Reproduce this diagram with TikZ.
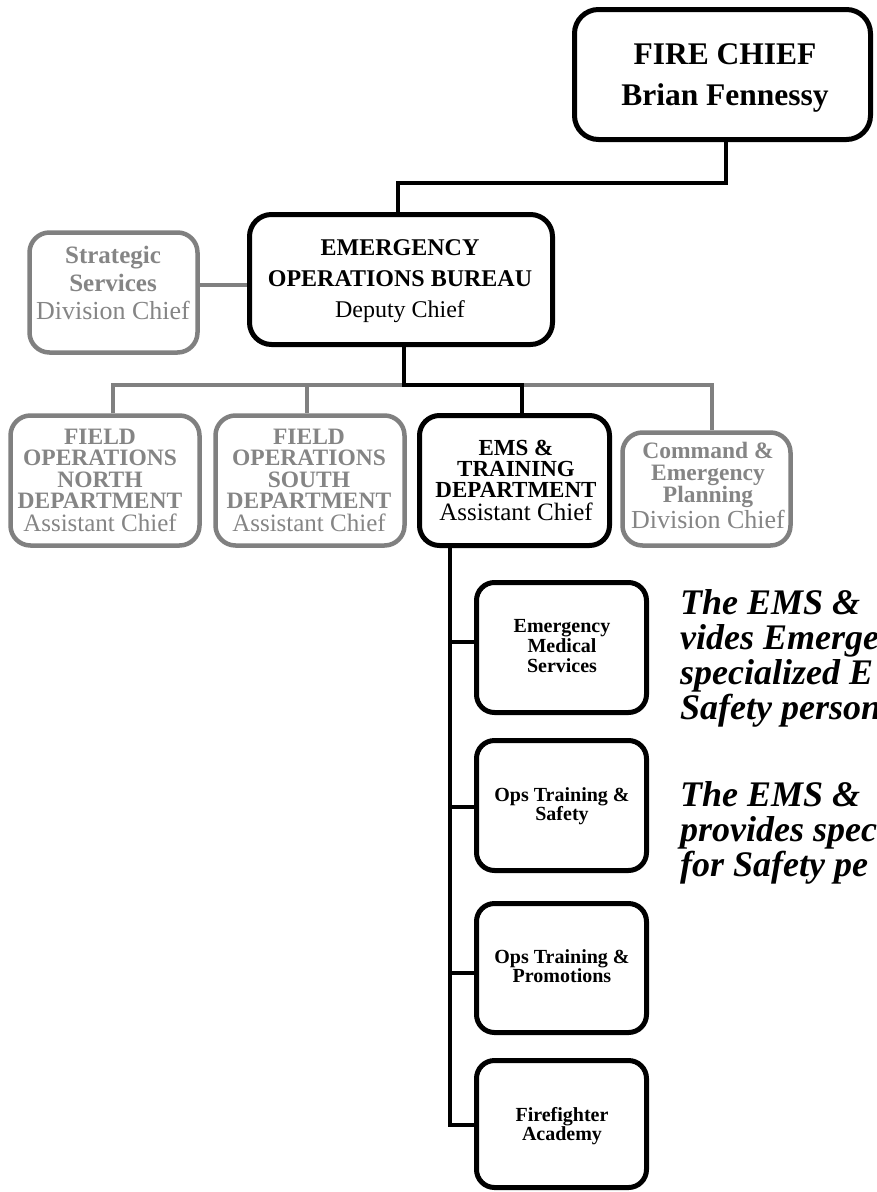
\documentclass[tikz,border=0pt]{standalone}
\usepackage{fontspec}
\setmainfont{Liberation Serif}
\definecolor{gline}{HTML}{808080}
\definecolor{gtext}{HTML}{858585}
\tikzset{
  box/.style={draw, line width=5pt, rounded corners=20pt, inner sep=0pt, fill=white},
  gbox/.style={box, draw=gline, line width=4.5pt},
  subbox/.style={box, rounded corners=18pt, minimum width=170pt, minimum height=130pt},
  txt/.style={align=center, inner sep=0pt, anchor=north},
  gtxt/.style={txt, text=gtext},
  conn/.style={line width=4.5pt},
  gconn/.style={line width=4.5pt, draw=gline},
  para/.style={align=left, inner sep=0pt, anchor=north west, font=\fontsize{36}{35}\selectfont\bfseries\itshape}
}
\begin{document}
\begin{tikzpicture}[x=1pt,y=-1pt]
\useasboundingbox (0,0) rectangle (876,1192);
% coordinates for connectors
\coordinate (j1) at (726,183);
\coordinate (j2) at (398,183);
\coordinate (j5) at (220,285);
\coordinate (gA) at (113,385);
\coordinate (gB) at (307,385);
\coordinate (gC) at (712,385);
\coordinate (jB1) at (404,385);
\coordinate (jB2) at (522,385);
\coordinate (r1) at (450,642);
\coordinate (r2) at (450,807);
\coordinate (r3) at (450,973);
\coordinate (r4) at (450,1125);

% boxes
\node[box, minimum width=296pt, minimum height=130pt, rounded corners=24pt] (fire) at (722.5,74.5) {};
\node[box, minimum width=303pt, minimum height=130pt, rounded corners=22pt] (eob) at (401,279.5) {};
\node[gbox, minimum width=168pt, minimum height=120pt] (strat) at (113.5,292.5) {};
\node[gbox, minimum width=189pt, minimum height=130pt] (fon) at (105,480.5) {};
\node[gbox, minimum width=189pt, minimum height=130pt] (fos) at (310,480.5) {};
\node[box, minimum width=190pt, minimum height=130pt] (ems) at (514.5,480.5) {};
\node[gbox, minimum width=168pt, minimum height=113pt] (cmd) at (706.5,489) {};
\node[subbox] (emsmed) at (561.5,647.5) {};
\node[subbox] (opssafe) at (561.5,805.5) {};
\node[subbox, minimum height=129pt] (opsprom) at (561.5,968) {};
\node[subbox, minimum height=127pt] (acad) at (561.5,1124) {};

% connectors
\draw[conn] (fire.south -| j1) -- (j1) -- (j2) -- (eob.north -| j2);
\draw[gconn] (strat.east |- j5) -- (eob.west |- j5);
\draw[gconn] (fon.north -| gA) -- (gA) -- (gC) -- (cmd.north -| gC);
\draw[gconn] (gB) -- (fos.north -| gB);
\draw[conn] (eob.south -| jB1) -- (jB1) -- (jB2) -- (ems.north -| jB2);
\draw[conn] (ems.south -| r4) -- (r4) -- (acad.west |- r4);
\draw[conn] (r1) -- (emsmed.west |- r1);
\draw[conn] (r2) -- (opssafe.west |- r2);
\draw[conn] (r3) -- (opsprom.west |- r3);

% texts
\node[txt, font=\fontsize{31.5}{41}\selectfont\bfseries] (firet) at (725,43.5) {FIRE CHIEF\\Brian Fennessy};
\node[txt, font=\fontsize{24}{31}\selectfont] (eobt) at (400,239.5) {\textbf{EMERGENCY}\\\textbf{OPERATIONS BUREAU}\\Deputy Chief};
\node[gtxt, font=\fontsize{25}{28}\selectfont] (stratt) at (113,245.5) {\textbf{Strategic}\\\textbf{Services}\\{\fontsize{26}{28}\selectfont Division Chief}};
\node[gtxt, font=\fontsize{23.5}{21.5}\selectfont] (font) at (100,428.5) {\textbf{FIELD}\\\textbf{OPERATIONS}\\\textbf{NORTH}\\\textbf{DEPARTMENT}\\[1.5pt]{\fontsize{25}{21.5}\selectfont Assistant Chief}};
\node[gtxt, font=\fontsize{23.5}{21.5}\selectfont] (fost) at (309,428.5) {\textbf{FIELD}\\\textbf{OPERATIONS}\\\textbf{SOUTH}\\\textbf{DEPARTMENT}\\[1.5pt]{\fontsize{25}{21.5}\selectfont Assistant Chief}};
\node[txt, font=\fontsize{23}{21}\selectfont] (emst) at (516,439.5) {\textbf{EMS \&}\\\textbf{TRAINING}\\\textbf{DEPARTMENT}\\[2pt]{\fontsize{25}{21}\selectfont Assistant Chief}};
\node[gtxt, font=\fontsize{23.5}{22}\selectfont] (cmdt) at (708,442) {\textbf{Command \&}\\\textbf{Emergency}\\\textbf{Planning}\\[1.5pt]{\fontsize{26}{22}\selectfont Division Chief}};
\node[txt, font=\fontsize{20}{20}\selectfont\bfseries] (emsmedt) at (562,619.5) {Emergency\\Medical\\Services};
\node[txt, font=\fontsize{20}{19}\selectfont\bfseries] (opssafet) at (562,787.5) {Ops Training \&\\Safety};
\node[txt, font=\fontsize{20}{19}\selectfont\bfseries] (opspromt) at (562,949.5) {Ops Training \&\\Promotions};
\node[txt, font=\fontsize{20}{19}\selectfont\bfseries] (acadt) at (562,1107) {Firefighter\\Academy};

% side paragraphs (clipped at the page edge)
\begin{scope}
\clip (0,0) rectangle (876,1192);
\node[para] (p1) at (680,589) {The EMS \&\\vides Emerge\\specialized E\\Safety person};
\node[para] (p2) at (680,781) {The EMS \&\\provides spec\\for Safety pe};
\end{scope}
\end{tikzpicture}
\end{document}
